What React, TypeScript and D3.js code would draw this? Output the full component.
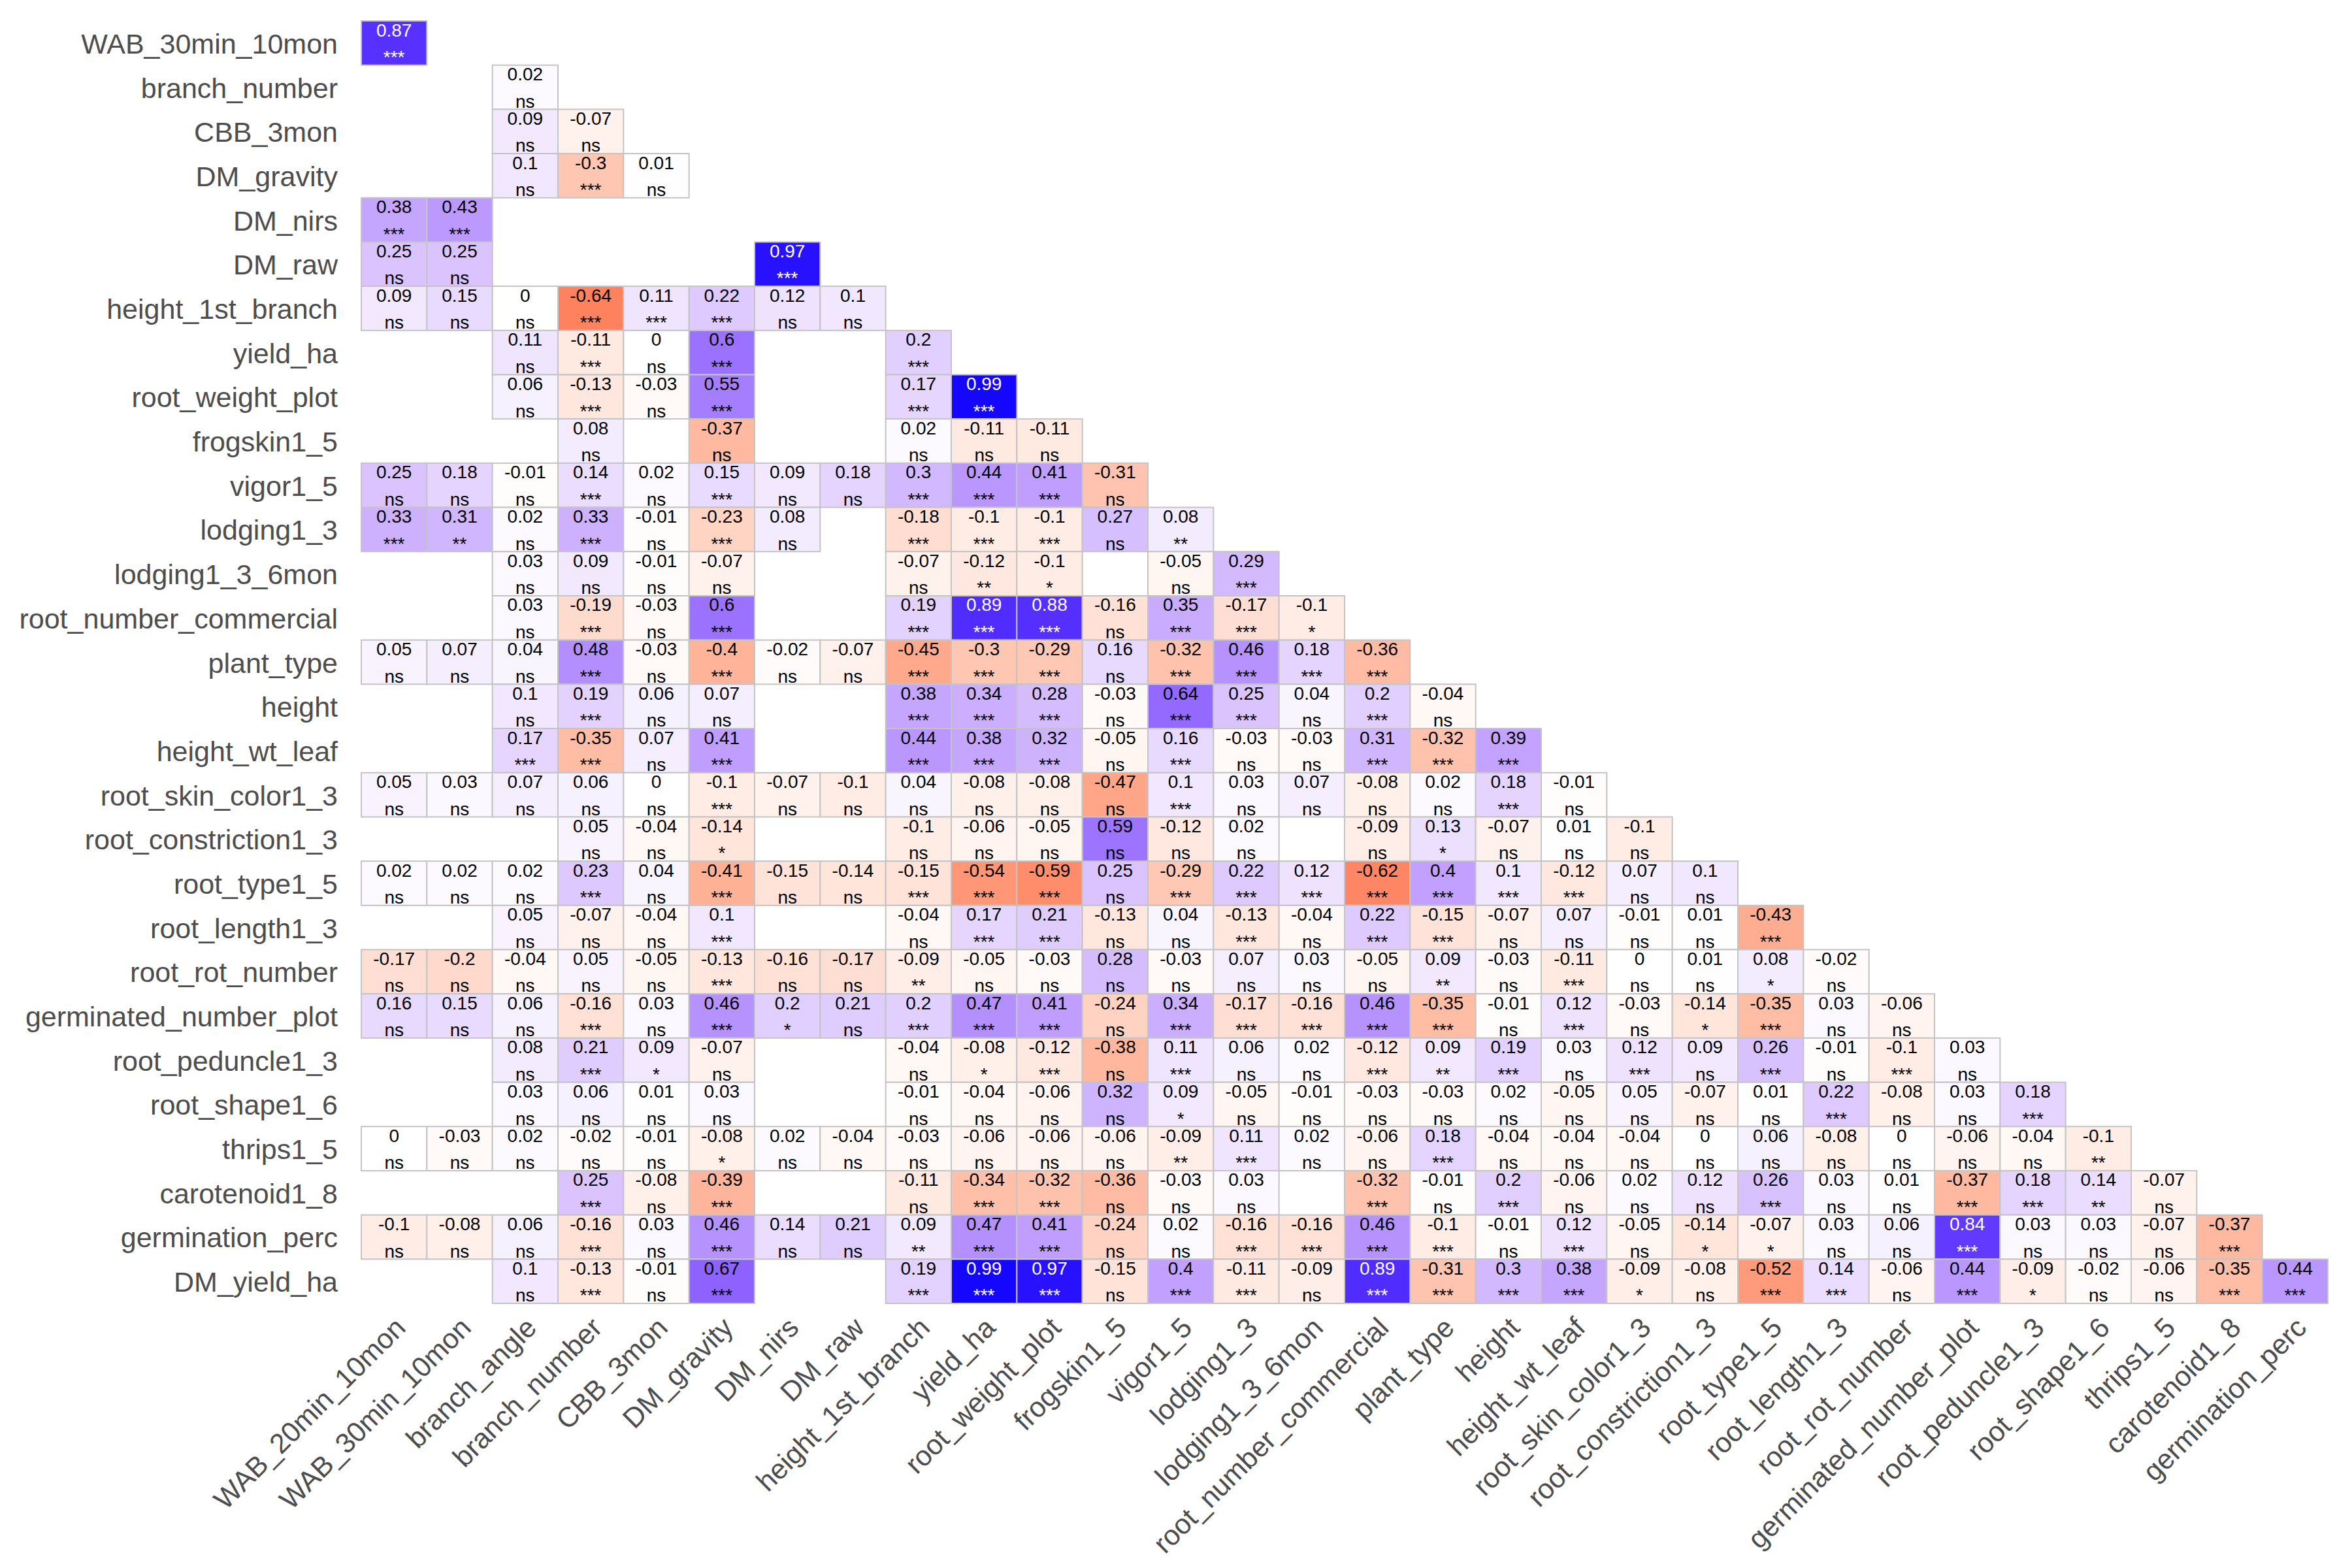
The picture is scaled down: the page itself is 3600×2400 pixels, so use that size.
import React from "react";
import * as d3 from "d3";

const colLabels = [
  "WAB_20min_10mon", "WAB_30min_10mon", "branch_angle", "branch_number", "CBB_3mon",
  "DM_gravity", "DM_nirs", "DM_raw", "height_1st_branch", "yield_ha",
  "root_weight_plot", "frogskin1_5", "vigor1_5", "lodging1_3", "lodging1_3_6mon",
  "root_number_commercial", "plant_type", "height", "height_wt_leaf", "root_skin_color1_3",
  "root_constriction1_3", "root_type1_5", "root_length1_3", "root_rot_number", "germinated_number_plot",
  "root_peduncle1_3", "root_shape1_6", "thrips1_5", "carotenoid1_8", "germination_perc",
];

const rowLabels = [
  "WAB_30min_10mon", "branch_number", "CBB_3mon", "DM_gravity", "DM_nirs", "DM_raw",
  "height_1st_branch", "yield_ha", "root_weight_plot", "frogskin1_5", "vigor1_5",
  "lodging1_3", "lodging1_3_6mon", "root_number_commercial", "plant_type", "height",
  "height_wt_leaf", "root_skin_color1_3", "root_constriction1_3", "root_type1_5",
  "root_length1_3", "root_rot_number", "germinated_number_plot", "root_peduncle1_3",
  "root_shape1_6", "thrips1_5", "carotenoid1_8", "germination_perc", "DM_yield_ha",
];

const _ = null;
// correlation values, one array per row, index = column
const corrValues: (number | null)[][] = [
  [0.87],
  [_, _, 0.02],
  [_, _, 0.09, -0.07],
  [_, _, 0.1, -0.3, 0.01],
  [0.38, 0.43],
  [0.25, 0.25, _, _, _, _, 0.97],
  [0.09, 0.15, 0, -0.64, 0.11, 0.22, 0.12, 0.1],
  [_, _, 0.11, -0.11, 0, 0.6, _, _, 0.2],
  [_, _, 0.06, -0.13, -0.03, 0.55, _, _, 0.17, 0.99],
  [_, _, _, 0.08, _, -0.37, _, _, 0.02, -0.11, -0.11],
  [0.25, 0.18, -0.01, 0.14, 0.02, 0.15, 0.09, 0.18, 0.3, 0.44, 0.41, -0.31],
  [0.33, 0.31, 0.02, 0.33, -0.01, -0.23, 0.08, _, -0.18, -0.1, -0.1, 0.27, 0.08],
  [_, _, 0.03, 0.09, -0.01, -0.07, _, _, -0.07, -0.12, -0.1, _, -0.05, 0.29],
  [_, _, 0.03, -0.19, -0.03, 0.6, _, _, 0.19, 0.89, 0.88, -0.16, 0.35, -0.17, -0.1],
  [0.05, 0.07, 0.04, 0.48, -0.03, -0.4, -0.02, -0.07, -0.45, -0.3, -0.29, 0.16, -0.32, 0.46, 0.18, -0.36],
  [_, _, 0.1, 0.19, 0.06, 0.07, _, _, 0.38, 0.34, 0.28, -0.03, 0.64, 0.25, 0.04, 0.2, -0.04],
  [_, _, 0.17, -0.35, 0.07, 0.41, _, _, 0.44, 0.38, 0.32, -0.05, 0.16, -0.03, -0.03, 0.31, -0.32, 0.39],
  [0.05, 0.03, 0.07, 0.06, 0, -0.1, -0.07, -0.1, 0.04, -0.08, -0.08, -0.47, 0.1, 0.03, 0.07, -0.08, 0.02, 0.18, -0.01],
  [_, _, _, 0.05, -0.04, -0.14, _, _, -0.1, -0.06, -0.05, 0.59, -0.12, 0.02, _, -0.09, 0.13, -0.07, 0.01, -0.1],
  [0.02, 0.02, 0.02, 0.23, 0.04, -0.41, -0.15, -0.14, -0.15, -0.54, -0.59, 0.25, -0.29, 0.22, 0.12, -0.62, 0.4, 0.1, -0.12, 0.07, 0.1],
  [_, _, 0.05, -0.07, -0.04, 0.1, _, _, -0.04, 0.17, 0.21, -0.13, 0.04, -0.13, -0.04, 0.22, -0.15, -0.07, 0.07, -0.01, 0.01, -0.43],
  [-0.17, -0.2, -0.04, 0.05, -0.05, -0.13, -0.16, -0.17, -0.09, -0.05, -0.03, 0.28, -0.03, 0.07, 0.03, -0.05, 0.09, -0.03, -0.11, 0, 0.01, 0.08, -0.02],
  [0.16, 0.15, 0.06, -0.16, 0.03, 0.46, 0.2, 0.21, 0.2, 0.47, 0.41, -0.24, 0.34, -0.17, -0.16, 0.46, -0.35, -0.01, 0.12, -0.03, -0.14, -0.35, 0.03, -0.06],
  [_, _, 0.08, 0.21, 0.09, -0.07, _, _, -0.04, -0.08, -0.12, -0.38, 0.11, 0.06, 0.02, -0.12, 0.09, 0.19, 0.03, 0.12, 0.09, 0.26, -0.01, -0.1, 0.03],
  [_, _, 0.03, 0.06, 0.01, 0.03, _, _, -0.01, -0.04, -0.06, 0.32, 0.09, -0.05, -0.01, -0.03, -0.03, 0.02, -0.05, 0.05, -0.07, 0.01, 0.22, -0.08, 0.03, 0.18],
  [0, -0.03, 0.02, -0.02, -0.01, -0.08, 0.02, -0.04, -0.03, -0.06, -0.06, -0.06, -0.09, 0.11, 0.02, -0.06, 0.18, -0.04, -0.04, -0.04, 0, 0.06, -0.08, 0, -0.06, -0.04, -0.1],
  [_, _, _, 0.25, -0.08, -0.39, _, _, -0.11, -0.34, -0.32, -0.36, -0.03, 0.03, _, -0.32, -0.01, 0.2, -0.06, 0.02, 0.12, 0.26, 0.03, 0.01, -0.37, 0.18, 0.14, -0.07],
  [-0.1, -0.08, 0.06, -0.16, 0.03, 0.46, 0.14, 0.21, 0.09, 0.47, 0.41, -0.24, 0.02, -0.16, -0.16, 0.46, -0.1, -0.01, 0.12, -0.05, -0.14, -0.07, 0.03, 0.06, 0.84, 0.03, 0.03, -0.07, -0.37],
  [_, _, 0.1, -0.13, -0.01, 0.67, _, _, 0.19, 0.99, 0.97, -0.15, 0.4, -0.11, -0.09, 0.89, -0.31, 0.3, 0.38, -0.09, -0.08, -0.52, 0.14, -0.06, 0.44, -0.09, -0.02, -0.06, -0.35, 0.44],
];

const n = "ns", a = "*", b = "**", c = "***";
// significance labels, same layout as corrValues
const sigLabels: (string | null)[][] = [
  [c],
  [_, _, n],
  [_, _, n, n],
  [_, _, n, c, n],
  [c, c],
  [n, n, _, _, _, _, c],
  [n, n, n, c, c, c, n, n],
  [_, _, n, c, n, c, _, _, c],
  [_, _, n, c, n, c, _, _, c, c],
  [_, _, _, n, _, n, _, _, n, n, n],
  [n, n, n, c, n, c, n, n, c, c, c, n],
  [c, b, n, c, n, c, n, _, c, c, c, n, b],
  [_, _, n, n, n, n, _, _, n, b, a, _, n, c],
  [_, _, n, c, n, c, _, _, c, c, c, n, c, c, a],
  [n, n, n, c, n, c, n, n, c, c, c, n, c, c, c, c],
  [_, _, n, c, n, n, _, _, c, c, c, n, c, c, n, c, n],
  [_, _, c, c, n, c, _, _, c, c, c, n, c, n, n, c, c, c],
  [n, n, n, n, n, c, n, n, n, n, n, n, c, n, n, n, n, c, n],
  [_, _, _, n, n, a, _, _, n, n, n, n, n, n, _, n, a, n, n, n],
  [n, n, n, c, n, c, n, n, c, c, c, n, c, c, c, c, c, c, c, n, n],
  [_, _, n, n, n, c, _, _, n, c, c, n, n, c, n, c, c, n, n, n, n, c],
  [n, n, n, n, n, c, n, n, b, n, n, n, n, n, n, n, b, n, c, n, n, a, n],
  [n, n, n, c, n, c, a, n, c, c, c, n, c, c, c, c, c, n, c, n, a, c, n, n],
  [_, _, n, c, a, n, _, _, n, a, c, n, c, n, n, c, b, c, n, c, n, c, n, c, n],
  [_, _, n, n, n, n, _, _, n, n, n, n, a, n, n, n, n, n, n, n, n, n, c, n, n, c],
  [n, n, n, n, n, a, n, n, n, n, n, n, b, c, n, n, c, n, n, n, n, n, n, n, n, n, b],
  [_, _, _, c, n, c, _, _, n, c, c, n, n, n, _, c, n, c, n, n, n, c, n, n, c, c, b, n],
  [n, n, n, c, n, c, n, n, b, c, c, n, n, c, c, c, c, n, c, n, a, a, n, n, c, n, n, n, c],
  [_, _, n, c, n, c, _, _, c, c, c, n, c, c, n, c, c, c, c, a, n, c, c, n, c, a, n, n, c, c],
];

const W = 3600;
const H = 2400;
const gridLeft = 553;
const gridRight = 3563;
const gridTop = 32;
const gridBottom = 1995;
const FONT = "'Liberation Sans', Arial, Helvetica, sans-serif";
const LABEL_SIZE = 43;

export default function App() {
  const x = d3.scaleBand<string>().domain(colLabels).range([gridLeft, gridRight]).padding(0);
  const y = d3.scaleBand<string>().domain(rowLabels).range([gridTop, gridBottom]).padding(0);
  const color = d3
    .scaleLinear<string>()
    .domain([-1, 0, 1])
    .range(["red", "white", "blue"])
    .interpolate(d3.interpolateLab);

  const cells: { r: number; c: number; v: number; s: string }[] = [];
  corrValues.forEach((row, r) => {
    row.forEach((v, ci) => {
      if (v !== null && v !== undefined) {
        cells.push({ r, c: ci, v, s: (sigLabels[r] && sigLabels[r][ci]) || "" });
      }
    });
  });

  const bw = x.bandwidth();
  const bh = y.bandwidth();

  return (
    <svg
      width={W}
      height={H}
      viewBox={`0 0 ${W} ${H}`}
      style={{ position: "absolute", left: 0, top: 0, background: "white" }}
      fontFamily={FONT}
    >
      <rect x={0} y={0} width={W} height={H} fill="white" />
      <g>
        {cells.map((d) => {
          const x0 = x(colLabels[d.c])!;
          const y0 = y(rowLabels[d.r])!;
          return (
            <rect
              key={`r${d.r}-${d.c}`}
              x={x0}
              y={y0}
              width={bw}
              height={bh}
              fill={color(d.v)}
              stroke="#c4c4c4"
              strokeWidth={2}
            />
          );
        })}
      </g>
      <g>
        {cells.map((d) => {
          const cx = x(colLabels[d.c])! + bw / 2;
          const y0 = y(rowLabels[d.r])!;
          const fill = Math.abs(d.v) >= 0.8 ? "white" : "black";
          return (
            <g key={`t${d.r}-${d.c}`} fill={fill} fontSize={28} textAnchor="middle">
              <text x={cx} y={y0 + 23.5}>{String(d.v)}</text>
              <text x={cx} y={y0 + 65}>{d.s}</text>
            </g>
          );
        })}
      </g>
      <g fill="#4d4d4d" fontSize={LABEL_SIZE}>
        {rowLabels.map((lab) => (
          <text
            key={lab}
            x={gridLeft - 36}
            y={y(lab)! + bh / 2 + 16}
            textAnchor="end"
          >
            {lab}
          </text>
        ))}
      </g>
      <g fill="#4d4d4d" fontSize={LABEL_SIZE}>
        {colLabels.map((lab) => {
          const cx = x(lab)! + bw / 2;
          return (
            <text
              key={lab}
              transform={`translate(${cx - 2},${gridBottom + 18}) rotate(-45)`}
              textAnchor="end"
              dy="0.72em"
            >
              {lab}
            </text>
          );
        })}
      </g>
    </svg>
  );
}
